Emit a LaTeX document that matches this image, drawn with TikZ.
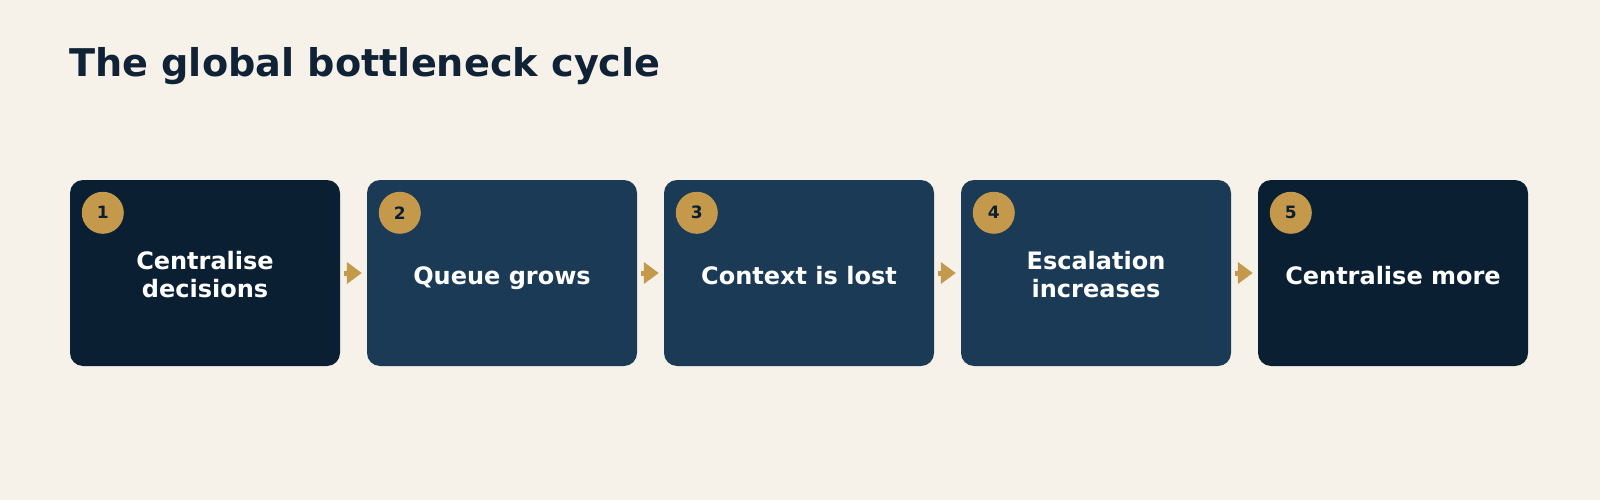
\documentclass[tikz,border=0pt]{standalone}
\usepackage{fontspec}
\setmainfont{DejaVu Sans}
\usetikzlibrary{arrows.meta}
\definecolor{bg}{HTML}{F6F2EA}
\definecolor{darkbox}{HTML}{0B1F33}
\definecolor{midbox}{HTML}{1A3A56}
\definecolor{gold}{HTML}{C4994B}
\definecolor{titlec}{HTML}{0F2236}
\tikzset{
  stepbox/.style={rounded corners=13pt, minimum width=270pt, minimum height=186pt, inner sep=0pt},
  steptext/.style={anchor=base, inner sep=0pt, text=white, align=center, font=\fontsize{24}{28.7}\selectfont\bfseries},
  badge/.style={circle, fill=gold, minimum size=42pt, inner sep=0pt, text=darkbox, font=\fontsize{17}{17}\selectfont\bfseries},
  flow/.style={draw=gold, line width=5pt, -{Triangle[length=15pt,width=21pt]}, shorten <=4pt, shorten >=5pt}
}
\begin{document}
\begin{tikzpicture}[x=1pt,y=-1pt]
\useasboundingbox[fill=bg] (0,0) rectangle (1600,500);
\node[anchor=base west, text=titlec, font=\fontsize{38.2}{38.2}\selectfont\bfseries, inner sep=0pt] (title) at (69,77) {The global bottleneck cycle};
\node[stepbox, fill=darkbox] (b1) at (205,273) {};
\node[stepbox, fill=midbox] (b2) at (502,273) {};
\node[stepbox, fill=midbox] (b3) at (799,273) {};
\node[stepbox, fill=midbox] (b4) at (1096,273) {};
\node[stepbox, fill=darkbox] (b5) at (1393,273) {};
\node[steptext] (t1) at ([yshift=-24.7pt]b1.center) {Centralise\\decisions};
\node[steptext] (t2) at ([yshift=-11pt]b2.center) {Queue grows};
\node[steptext] (t3) at ([yshift=-11pt]b3.center) {Context is lost};
\node[steptext] (t4) at ([yshift=-24.7pt]b4.center) {Escalation\\increases};
\node[steptext] (t5) at ([yshift=-11pt]b5.center) {Centralise more};
\foreach \i in {1,...,5}{
  \node[badge] (n\i) at ([xshift=33pt,yshift=-33pt]b\i.north west) {\i};
}
\draw[flow] (b1.east) -- (b2.west);
\draw[flow] (b2.east) -- (b3.west);
\draw[flow] (b3.east) -- (b4.west);
\draw[flow] (b4.east) -- (b5.west);
\end{tikzpicture}
\end{document}
